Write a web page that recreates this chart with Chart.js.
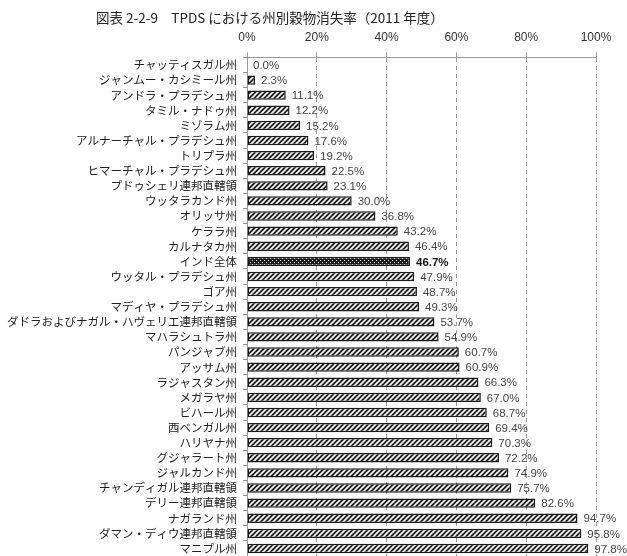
<!DOCTYPE html>
<html>
<head>
<meta charset="utf-8">
<script src="https://cdn.jsdelivr.net/npm/chart.js@4"></script>
<style>
  html, body { margin: 0; padding: 0; background: #fff; }
  #wrap { position: relative; width: 627px; height: 556px; }
  #title { position: absolute; left: 96px; top: 7px; font: 13.5px "Noto Sans CJK JP", sans-serif; color: #222; white-space: pre; }
</style>
</head>
<body>
<div id="wrap">
  <div id="title">図表 2-2-9　TPDS における州別穀物消失率（2011 年度）</div>
  <canvas id="chart" width="627" height="556"></canvas>
</div>
<script>
// categories and loss rates (%)
var states = [
  "チャッティスガル州", "ジャンムー・カシミール州", "アンドラ・プラデシュ州", "タミル・ナドゥ州",
  "ミゾラム州", "アルナーチャル・プラデシュ州", "トリプラ州", "ヒマーチャル・プラデシュ州",
  "プドゥシェリ連邦直轄領", "ウッタラカンド州", "オリッサ州", "ケララ州", "カルナタカ州",
  "インド全体", "ウッタル・プラデシュ州", "ゴア州", "マディヤ・プラデシュ州",
  "ダドラおよびナガル・ハヴェリエ連邦直轄領", "マハラシュトラ州", "パンジャブ州", "アッサム州",
  "ラジャスタン州", "メガラヤ州", "ビハール州", "西ベンガル州", "ハリヤナ州", "グジャラート州",
  "ジャルカンド州", "チャンディガル連邦直轄領", "デリー連邦直轄領", "ナガランド州",
  "ダマン・ディウ連邦直轄領", "マニプル州"
];
var lossRate = [
  0.0, 2.3, 11.1, 12.2, 15.2, 17.6, 19.2, 22.5, 23.1, 30.0, 36.8, 43.2, 46.4,
  46.7, 47.9, 48.7, 49.3, 53.7, 54.9, 60.7, 60.9, 66.3, 67.0, 68.7, 69.4, 70.3,
  72.2, 74.9, 75.7, 82.6, 94.7, 95.8, 97.8
];
var xTicks = [0, 20, 40, 60, 80, 100];
var totalLabel = "インド全体";

function stripePattern() {
  var c = document.createElement("canvas");
  c.width = 5; c.height = 5;
  var g = c.getContext("2d");
  g.fillStyle = "#1e1e1e";
  g.fillRect(0, 0, 5, 5);
  g.strokeStyle = "#fff";
  g.lineWidth = 1.6;
  g.beginPath();
  g.moveTo(0, 5); g.lineTo(5, 0);
  g.moveTo(-1, 1); g.lineTo(1, -1);
  g.moveTo(4, 6); g.lineTo(6, 4);
  g.stroke();
  return g.createPattern(c, "repeat");
}
function dotPattern() {
  var c = document.createElement("canvas");
  c.width = 4; c.height = 4;
  var g = c.getContext("2d");
  g.fillStyle = "#1e1e1e";
  g.fillRect(0, 0, 4, 4);
  g.fillStyle = "#ddd";
  g.fillRect(0, 0, 1, 1);
  g.fillRect(2, 2, 1, 1);
  return g.createPattern(c, "repeat");
}
var stripes = stripePattern();
var dots = dotPattern();

var valueLabels = {
  id: "valueLabels",
  afterDatasetsDraw: function (chart) {
    var ctx = chart.ctx;
    var meta = chart.getDatasetMeta(0);
    ctx.save();
    ctx.textBaseline = "middle";
    ctx.textAlign = "left";
    meta.data.forEach(function (bar, i) {
      var isTotal = states[i] === totalLabel;
      ctx.font = (isTotal ? "bold " : "") + "11.5px 'Liberation Sans', Arial, sans-serif";
      ctx.fillStyle = isTotal ? "#111" : "#444";
      ctx.fillText(lossRate[i].toFixed(1) + "%", bar.x + 6, bar.y + 1);
    });
    ctx.restore();
  }
};

new Chart(document.getElementById("chart"), {
  type: "bar",
  data: {
    labels: states,
    datasets: [{
      data: lossRate,
      backgroundColor: states.map(function (s) { return s === totalLabel ? dots : stripes; }),
      borderColor: "#1a1a1a",
      borderWidth: 1.5,
      borderSkipped: false,
      categoryPercentage: 1,
      barPercentage: 0.62
    }]
  },
  options: {
    indexAxis: "y",
    responsive: false,
    animation: false,
    layout: { padding: { top: 22, right: 31, bottom: 0, left: 0 } },
    plugins: { legend: { display: false }, tooltip: { enabled: false } },
    scales: {
      x: {
        position: "top",
        min: 0, max: 100,
        afterBuildTicks: function (scale) {
          scale.ticks = xTicks.map(function (v) { return { value: v }; });
        },
        ticks: {
          callback: function (v) { return v + "%"; },
          color: "#333",
          font: { family: "'Liberation Sans', Arial, sans-serif", size: 12 },
          padding: 8
        },
        grid: { color: "#999", tickLength: 5, tickColor: "#999" },
        border: { color: "#999", dash: [4, 4] }
      },
      y: {
        afterFit: function (scale) {
          scale.width = 247;
          scale.paddingTop = 0;
          scale.paddingBottom = 0;
        },
        ticks: {
          autoSkip: false,
          color: "#222",
          font: { family: "'Noto Sans CJK JP', sans-serif", size: 11.5 },
          padding: 6
        },
        grid: { drawOnChartArea: false, offset: true, tickLength: 4, color: "#999" },
        border: { color: "#999" }
      }
    }
  },
  plugins: [valueLabels]
});
</script>
</body>
</html>
